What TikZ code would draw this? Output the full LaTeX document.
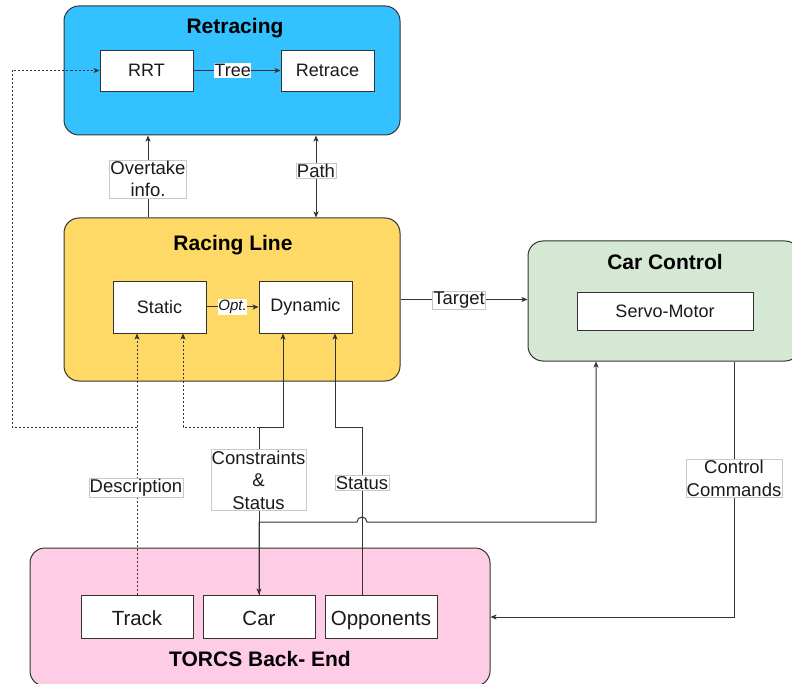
\documentclass[tikz,border=0pt]{standalone}
\usepackage{fontspec}
\setmainfont{Liberation Sans}
\usetikzlibrary{arrows.meta}
\definecolor{retc}{HTML}{33C1FF}
\definecolor{racc}{HTML}{FFD966}
\definecolor{carc}{HTML}{D5E8D4}
\definecolor{torc}{HTML}{FFCCE6}
\definecolor{edgec}{HTML}{333333}
\definecolor{lblc}{HTML}{C8C8C8}
\definecolor{txtc}{HTML}{1A1A1A}
\newcommand{\lowtext}[1]{\raisebox{-8.5pt}[0pt][0pt]{#1}}
\begin{document}
\begin{tikzpicture}[x=1pt,y=-1pt,
  container/.style={draw=edgec, line width=1pt, rounded corners=15pt, inner sep=0pt},
  inbox/.style={draw=edgec, fill=white, line width=0.9pt, inner sep=0pt, text=txtc, font=\fontsize{18}{21}\selectfont},
  bigbox/.style={inbox, minimum width=112pt, minimum height=43pt, font=\fontsize{20.5}{24}\selectfont},
  titletext/.style={font=\bfseries\fontsize{21}{24}\selectfont, inner sep=0pt, text=black},
  lbl/.style={fill=white, draw=lblc, line width=0.6pt, inner xsep=0.8pt, inner ysep=1pt, align=center, text=txtc, font=\fontsize{18.5}{22.5}\selectfont},
  plainlbl/.style={fill=white, inner xsep=0.5pt, inner ysep=1pt, text=txtc, font=\fontsize{18}{21}\selectfont},
  tipstyle/.style={-{Stealth[length=6pt,width=5pt,inset=1.5pt]}},
  conn/.style={draw=edgec, line width=1pt, tipstyle},
  biconn/.style={draw=edgec, line width=1pt, {Stealth[length=6pt,width=5pt,inset=1.5pt]}-{Stealth[length=6pt,width=5pt,inset=1.5pt]}},
  dconn/.style={conn, dash pattern=on 2pt off 2pt}
]
\clip (0,0) rectangle (792,684);
\useasboundingbox (0,0) rectangle (792,684);
\fill[white] (0,0) rectangle (792,684);

% containers
\node[container, fill=retc, minimum width=336pt, minimum height=129pt] (retracing) at (232,70.5) {};
\node[titletext] (rettitle) at (235,28.5) {Retracing};
\node[container, fill=racc, minimum width=336pt, minimum height=163pt] (racing) at (232,299.5) {};
\node[titletext] (ractitle) at (233,245.5) {Racing Line};
\node[container, fill=carc, minimum width=272pt, minimum height=120pt] (carctl) at (664,301) {};
\node[titletext] (cartitle) at (665,262) {Car Control};
\node[container, fill=torc, minimum width=460pt, minimum height=138pt] (torcs) at (260,617) {};
\node[titletext] (tortitle) at (260,659) {TORCS Back- End};

% inner boxes
\node[inbox, minimum width=93pt, minimum height=41pt] (rrt) at (146.5,70.5) {RRT};
\node[inbox, minimum width=93pt, minimum height=41pt] (retrace) at (327.5,70.5) {Retrace};
\node[inbox, minimum width=93pt, minimum height=52pt] (static) at (159.5,307) {Static};
\node[inbox, minimum width=93pt, minimum height=52pt] (dynamic) at (305.5,307) {Dynamic};
\node[inbox, minimum width=176pt, minimum height=38pt] (servo) at (665,311) {Servo-Motor};
\node[bigbox] (track) at (137,616.5) {\lowtext{Track}};
\node[bigbox] (car) at (259,616.5) {\lowtext{Car}};
\node[bigbox] (opp) at (381,616.5) {\lowtext{Opponents}};

% helper coordinates
\coordinate (tj) at (137,427);
\coordinate (lj) at (12,427);
\coordinate (cj) at (259,427);
\coordinate (oj) at (362,427);
\coordinate (cc) at (259,522);
\coordinate (jumpa) at (357,522);
\coordinate (cmdc) at (734,617);

% Retracing internals
\draw[conn] (rrt) -- (retrace) node[plainlbl, pos=0.45] (treelbl) {Tree};
% Racing internals
\draw[conn] (static) -- (dynamic) node[plainlbl, midway, font=\itshape\fontsize{15}{17}\selectfont] (optlbl) {Opt.};

% between racing line and retracing
\draw[conn] ([xshift=-84pt]racing.north) -- ([xshift=-84pt]retracing.south);
\node[lbl] (overlbl) at (148,179) {Overtake\\info.};
\draw[biconn] ([xshift=84pt]racing.north) -- ([xshift=84pt]retracing.south);
\node[lbl] (pathlbl) at (316,171) {Path};

% target
\draw[conn] (racing.east) -- (racing.east -| carctl.west);
\node[lbl] (targetlbl) at (459,300.5) {Target};

% track description (dashed)
\draw[dconn] (track.north) -- (track.north |- static.south);
\draw[dconn] (tj) -- (lj) |- (rrt.west);
\node[lbl] (desclbl) at (136,488) {Description};

% car constraints & status
\draw[dconn] (cj) -| ([xshift=23.5pt]static.south);
\draw[conn] (car.north) -- (cj) -| ([xshift=-22.5pt]dynamic.south);
\node[lbl] (conslbl) at (258.5,480) {Constraints\\\&\\Status};

% opponents status
\draw[conn] ([xshift=-19pt]opp.north) -- (oj) -| ([xshift=29.5pt]dynamic.south);
\node[lbl] (statlbl) at (362,483) {Status};

% car <-> car control with line jump
\draw[biconn] (car.north) -- (cc) -- (jumpa) arc (180:360:5) -- (596,522) -- ([xshift=-68pt]carctl.south);

% control commands
\draw[conn] ([xshift=70pt]carctl.south) -- (cmdc) -- (torcs.east);
\node[lbl] (cmdlbl) at (734,478.5) {Control\\Commands};
\end{tikzpicture}
\end{document}
